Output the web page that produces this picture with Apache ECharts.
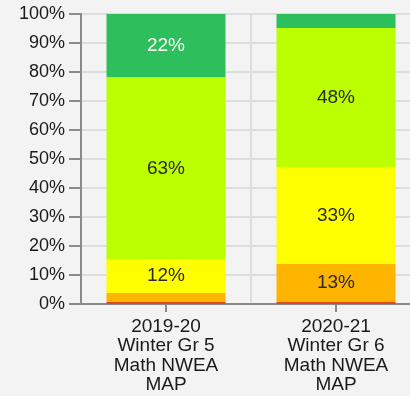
<!DOCTYPE html>
<html>
<head>
<meta charset="utf-8">
<script src="https://cdn.jsdelivr.net/npm/echarts@6/dist/echarts.min.js"></script>
<style>
  html, body { margin: 0; padding: 0; background: #f3f3f3; overflow: hidden; }
  /* the plot runs a little past the right edge of the visible page */
  #chart { width: 421px; height: 396px; }
</style>
</head>
<body>
<div id="chart"></div>
<script>
// Assessment periods shown on the x axis
const categories = [
  '2019-20\nWinter Gr 5\nMath NWEA\nMAP',
  '2020-21\nWinter Gr 6\nMath NWEA\nMAP'
];

// Percent of students in each performance band, bottom to top
const bandRed    = [0.8, 0.7];
const bandOrange = [3.0, 13.1];
const bandYellow = [11.6, 33.3];
const bandLime   = [62.8, 48.1];
const bandGreen  = [21.8, 4.8];

const yTickLabels = ['0%', '10%', '20%', '30%', '40%', '50%', '60%', '70%', '80%', '90%', '100%'];

const bands = [
  { name: 'Red',    data: bandRed,    color: '#e6461a', text: '#2a2a2a' },
  { name: 'Orange', data: bandOrange, color: '#ffb400', text: '#2a2a2a' },
  { name: 'Yellow', data: bandYellow, color: '#ffff00', text: '#2a2a2a' },
  { name: 'Lime',   data: bandLime,   color: '#bbff00', text: '#2a2a2a' },
  { name: 'Green',  data: bandGreen,  color: '#2cbf5c', text: '#ffffff' }
];

const font = 'Arial, "Liberation Sans", sans-serif';

const chart = echarts.init(document.getElementById('chart'), null, { renderer: 'canvas' });

chart.setOption({
  backgroundColor: '#f3f3f3',
  animation: false,
  grid: { left: 81, top: 14, right: 0, bottom: 92, containLabel: false },
  xAxis: {
    type: 'category',
    data: categories,
    boundaryGap: true,
    axisLine: { show: true, lineStyle: { color: '#8a8a8a', width: 2 } },
    axisTick: { show: true, alignWithLabel: true, length: 8, lineStyle: { color: '#8a8a8a', width: 2 } },
    splitLine: { show: true, lineStyle: { color: '#dddddd', width: 2 } },
    axisLabel: {
      color: '#1a1a1a', fontFamily: font, fontSize: 19, lineHeight: 19.5, margin: 13, interval: 0
    }
  },
  yAxis: {
    type: 'value',
    min: 0,
    max: 100,
    interval: 10,
    axisLine: { show: true, lineStyle: { color: '#8a8a8a', width: 2 } },
    axisTick: { show: true, length: 12, lineStyle: { color: '#8a8a8a', width: 2 } },
    splitLine: { show: true, lineStyle: { color: '#dddddd', width: 2 } },
    axisLabel: {
      color: '#1a1a1a', fontFamily: font, fontSize: 18, margin: 16,
      formatter: (v) => yTickLabels[Math.round(v / 10)]
    }
  },
  series: bands.map((b) => ({
    name: b.name,
    type: 'bar',
    stack: 'total',
    barWidth: '70%',
    data: b.data,
    itemStyle: { color: b.color },
    label: {
      show: true,
      position: 'inside',
      color: b.text,
      fontFamily: font,
      fontSize: 19,
      formatter: (p) => (p.value >= 8 ? Math.round(p.value) + '%' : '')
    }
  }))
});
</script>
</body>
</html>
